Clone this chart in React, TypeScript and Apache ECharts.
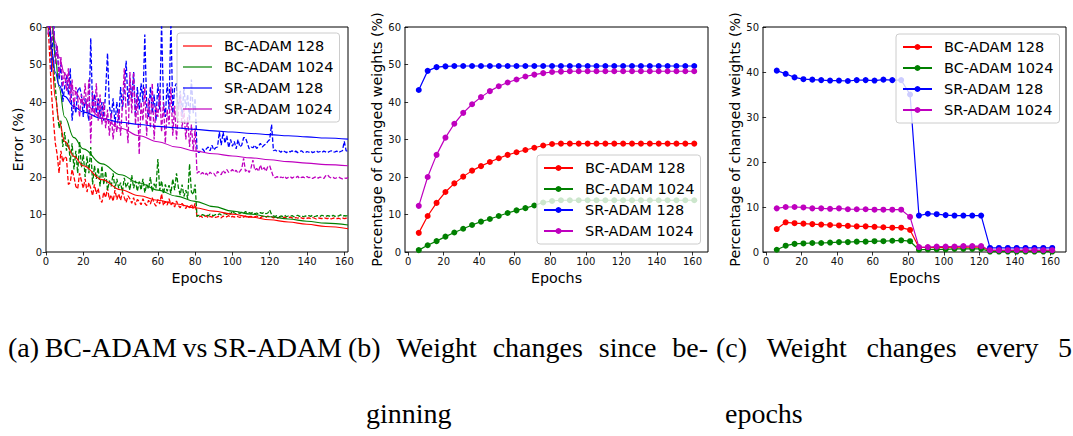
import React, { useEffect, useRef } from 'react';
import * as echarts from 'echarts';

const FONT = 'DejaVu Sans';
const SERIES_NAMES = ['BC-ADAM 128', 'BC-ADAM 1024', 'SR-ADAM 128', 'SR-ADAM 1024'];
const COLORS = ['#ff0000', '#008000', '#0000ff', '#bf00bf'];

// ---------- (a) error curves ----------
const fitEpochs = [1, 2, 3, 5, 7, 10, 15, 20, 30, 40, 50, 60, 70, 80, 90, 100, 110, 120, 130, 140, 150, 162];
const bc128Fit = [80, 62, 52, 41, 35, 29.5, 25.5, 23, 19.3, 16.6, 15.0, 13.8, 12.8, 11.8, 10.9, 10.1, 9.3, 8.6, 8.0, 7.4, 6.8, 6.2];
const bc1024Fit = [90, 72, 62, 52, 44, 36, 30.5, 27.5, 23.5, 20.6, 18.4, 16.5, 14.9, 13.5, 12.1, 10.9, 10.1, 9.4, 8.8, 8.2, 7.7, 7.2];
const sr128Fit = [70, 60, 54, 48, 44.5, 41.5, 38.8, 37.3, 35.6, 34.6, 34.0, 33.5, 33.1, 32.7, 32.3, 32.0, 31.6, 31.3, 31.0, 30.7, 30.4, 30.1];
const sr1024Fit = [85, 72, 63, 56, 52, 47.5, 43, 39.8, 35.7, 33, 31, 29.4, 28, 26.9, 26.2, 25.6, 25.1, 24.6, 24.1, 23.7, 23.3, 23.0];

const bc128Test = [
  62, 52, 42, 35, 29, 26, 21, 27, 24, 25.5,
  25, 18, 18.5, 22, 20, 17.5, 16.8, 21, 19, 17,
  19.5, 16, 18.5, 17, 15, 18, 15.5, 17, 14, 13.2,
  16, 14.5, 17, 14, 15.2, 13.5, 16.5, 14, 15.5, 13.8,
  16, 14.5, 13.2, 15, 14.2, 13, 14.5, 12.5, 14, 13.5,
  12.6, 14.2, 13, 12.4, 13.8, 12.8, 14.5, 13, 12.2, 14,
  12.8, 15.5, 12.4, 13.5, 12.5, 14.2, 12.6, 13.2, 12, 13.6,
  12.4, 11.8, 13, 12.2, 11.6, 12.5, 11.8, 12.8, 11.5, 13,
  9.5, 9.3, 9.6, 9.2, 9.4, 9.7, 9.1, 9.5, 9.3, 9.6,
  9.2, 9.4, 9.5, 9.1, 9.6, 9.3, 9.4, 9.7, 9.2, 9.5,
  9.3, 9.6, 9.4, 9.2, 9.5, 9.3, 9.6, 9.1, 9.4, 9.5,
  9.2, 9.4, 9.6, 9.3, 9.1, 9.5, 9.4, 9.2, 9.6, 9.3,
  9.4, 9.1, 9.3, 9.0, 9.2, 9.4, 9.1, 9.3, 9.0, 9.2,
  9.3, 9.1, 8.9, 9.2, 9.0, 9.3, 9.1, 8.9, 9.2, 9.0,
  9.1, 8.9, 9.2, 9.0, 8.8, 9.1, 9.0, 8.9, 9.2, 9.0,
  8.9, 9.1, 8.8, 9.0, 9.1, 8.9, 9.0, 8.8, 9.1, 8.9,
  9.0, 8.9,
];
const bc1024Test = [
  64, 58, 55, 50, 44, 38, 33, 35, 28, 32,
  27, 30, 24, 29, 22, 27, 21, 29.5, 22.5, 26,
  20, 25.5, 21, 28, 18, 23, 19.5, 22.5, 17.5, 23,
  18, 21.5, 16.5, 19, 17.5, 21, 16.8, 19.5, 17, 18.5,
  16, 19.8, 17.2, 18.5, 16.5, 20.5, 17, 19, 16.2, 18.8,
  16.5, 19.5, 15.8, 18, 16.8, 20, 16, 18.2, 17, 24.8,
  16.5, 19, 15.5, 18, 16.2, 17.8, 15.6, 19.5, 16.5, 21,
  17.2, 15.2, 18, 14.8, 16.5, 14.2, 23.5, 16, 15.3, 18,
  9.5, 9.8, 9.6, 10, 9.7, 9.9, 9.6, 10.1, 9.8, 9.7,
  10, 9.8, 10.2, 9.9, 10.1, 10.3, 10, 10.4, 10.1, 11,
  10.4, 10.2, 10.5, 10.3, 10.6, 10.2, 10.8, 10.4, 10.5, 10.3,
  10.6, 10.2, 10.4, 10.1, 10.5, 10.3, 10.6, 10.2, 10.4, 11.2,
  10, 9.6, 9.5, 9.7, 9.4, 9.6, 9.5, 9.8, 9.4, 9.6,
  9.5, 9.7, 9.4, 9.6, 9.8, 9.5, 9.7, 9.4, 9.6, 9.5,
  9.7, 9.5, 9.8, 9.4, 9.6, 9.7, 9.5, 9.8, 9.6, 9.5,
  9.7, 9.6, 9.4, 9.8, 9.5, 9.7, 9.6, 9.9, 9.5, 9.7,
  9.6, 9.8,
];
const sr128Test = [
  60, 61, 48, 62, 52, 55, 46, 50, 40, 44,
  47, 42, 49, 35, 40, 37, 43, 44, 42, 36,
  41, 38, 35, 57, 38, 42, 37, 41, 36, 40,
  35, 43, 53, 39, 36, 41, 34, 40, 35, 44,
  38, 43, 51, 39, 46, 41, 48, 36, 44, 38,
  45, 40, 58, 39, 36, 44, 37, 42, 35, 45,
  38, 61, 40, 36, 45, 38, 62, 37, 44, 45,
  38, 43, 36, 44, 38, 42, 35, 46, 37, 41,
  27, 26.5, 27, 27.5, 26.8, 27.5, 28, 27, 28.5, 27.2,
  27.8, 28, 32, 28.5, 32, 29, 31, 27.8, 30, 28.2,
  29.5, 27.5, 30, 28, 28.5, 30.5, 30.5, 29, 27.5, 28,
  27.8, 28.5, 27.6, 28.2, 29, 28, 28.5, 28.8, 29.5, 30,
  34, 27, 27.2, 26.8, 27, 26.6, 27.1, 26.8, 26.5, 26.9,
  26.7, 27, 26.6, 26.9, 26.5, 26.8, 27, 26.6, 26.4, 26.8,
  26.6, 26.9, 26.5, 26.7, 27, 26.6, 26.8, 26.5, 26.9, 26.7,
  26.5, 26.8, 27, 26.6, 26.7, 26.9, 26.5, 26.8, 27, 29.5,
  27, 26.8,
];
const sr1024Test = [
  58, 62, 56, 59, 50, 55, 47, 52, 44, 48,
  43, 49, 40, 46, 38, 44, 41, 36, 42, 39,
  45, 37, 46, 29, 43, 36, 45, 35, 42, 34,
  40, 33, 38, 31, 37, 30, 35, 32, 38, 31,
  39, 49, 36, 29, 48, 37, 48, 34, 42, 26,
  40, 35, 44, 31, 41, 33, 45, 30, 39, 36,
  43, 32, 40, 29, 38, 34, 44, 31, 39, 30,
  37, 42, 33, 38, 30, 36, 28, 34, 27, 33,
  21, 21.5, 20.8, 21.2, 20.5, 21, 20.4, 21.3, 20.8, 21,
  20.2, 21.5, 21, 20.6, 21.8, 21, 22, 21.2, 21.5, 22,
  21.3, 21.8, 21, 21.5, 22.2, 25, 21.5, 22, 21.2, 22.5,
  24.5, 21.8, 22.3, 21.5, 23.2, 21.8, 22.5, 21.5, 22.8, 23,
  21.5, 20, 19.8, 20.1, 19.7, 20, 19.8, 20.2, 19.6, 19.9,
  20.1, 19.7, 20, 19.8, 20.2, 19.6, 19.9, 20, 19.7, 20.1,
  19.8, 20, 19.6, 19.9, 20.1, 19.7, 20, 19.8, 19.6, 20.3,
  20.6, 20, 19.7, 19.9, 19.6, 19.8, 20, 19.7, 19.5, 19.8,
  19.6, 19.9,
];

// ---------- (b) and (c) ----------
const epochs5 = [6, 11, 16, 21, 26, 31, 36, 41, 46, 51, 56, 61, 66, 71, 76, 81, 86, 91, 96, 101, 106, 111, 116, 121, 126, 131, 136, 141, 146, 151, 156, 161];

const bc128Since = [5.1, 9.6, 13.1, 16.0, 18.3, 20.1, 21.7, 22.9, 24.0, 25.0, 25.9, 26.6, 27.2, 27.8, 28.4, 28.8, 28.9, 28.9, 28.9, 28.9, 28.9, 28.9, 28.9, 28.9, 28.9, 28.9, 28.9, 28.9, 28.9, 28.9, 28.9, 28.9];
const bc1024Since = [0.5, 1.8, 2.9, 4.1, 5.2, 6.2, 7.2, 8.1, 8.8, 9.6, 10.4, 11.1, 11.7, 12.4, 13.2, 13.6, 13.8, 13.8, 13.8, 13.8, 13.8, 13.8, 13.8, 13.8, 13.8, 13.8, 13.8, 13.8, 13.8, 13.8, 13.8, 13.8];
const sr128Since = [43.2, 48.3, 49.3, 49.5, 49.6, 49.6, 49.6, 49.6, 49.6, 49.6, 49.6, 49.6, 49.6, 49.6, 49.6, 49.6, 49.6, 49.6, 49.6, 49.6, 49.6, 49.6, 49.6, 49.6, 49.6, 49.6, 49.6, 49.6, 49.6, 49.6, 49.6, 49.6];
const sr1024Since = [12.3, 20.0, 25.9, 30.5, 34.2, 37.1, 39.4, 41.3, 42.9, 44.2, 45.2, 46.0, 46.8, 47.3, 47.7, 48.0, 48.1, 48.2, 48.2, 48.2, 48.2, 48.2, 48.2, 48.2, 48.2, 48.2, 48.2, 48.2, 48.2, 48.2, 48.2, 48.2];

const bc128Every = [5.1, 6.6, 6.4, 6.3, 6.2, 6.1, 6.0, 5.9, 5.8, 5.7, 5.7, 5.6, 5.5, 5.4, 5.4, 4.9, 1.0, 1.0, 1.0, 1.0, 1.1, 1.1, 1.1, 1.1, 0.3, 0.3, 0.3, 0.3, 0.3, 0.3, 0.3, 0.3];
const bc1024Every = [0.5, 1.4, 1.8, 1.9, 2.0, 2.0, 2.1, 2.2, 2.2, 2.3, 2.3, 2.4, 2.4, 2.5, 2.6, 2.4, 0.5, 0.6, 0.6, 0.6, 0.7, 0.7, 0.7, 0.7, 0.1, 0.1, 0.1, 0.1, 0.1, 0.1, 0.1, 0.1];
const sr128Every = [40.3, 39.6, 38.8, 38.4, 38.3, 38.2, 38.1, 38.1, 38.0, 38.2, 38.2, 38.1, 38.3, 38.2, 38.2, 35.0, 8.1, 8.5, 8.4, 8.2, 8.1, 8.1, 8.1, 8.1, 0.9, 0.9, 0.9, 0.9, 0.9, 0.9, 0.9, 0.9];
const sr1024Every = [9.7, 10.0, 10.0, 9.9, 9.7, 9.7, 9.6, 9.7, 9.5, 9.5, 9.5, 9.4, 9.4, 9.4, 9.4, 7.8, 1.1, 1.1, 1.2, 1.2, 1.2, 1.3, 1.3, 1.3, 0.4, 0.4, 0.4, 0.4, 0.4, 0.4, 0.4, 0.4];

const xTicks = [0, 20, 40, 60, 80, 100, 120, 140, 160];

// ---------- captions ----------
const captionA = ['(a)', 'BC-ADAM', 'vs', 'SR-ADAM'];
const captionB = ['(b)', 'Weight', 'changes', 'since', 'be-'];
const captionC = ['(c)', 'Weight', 'changes', 'every', '5'];
const captionB2 = 'ginning';
const captionC2 = 'epochs';

const CAP_FONT = 'Liberation Serif';
const CAP_SIZE = 28;

function justify(words: string[], x0: number, x1: number) {
  const ctx = document.createElement('canvas').getContext('2d') as CanvasRenderingContext2D;
  ctx.font = `${CAP_SIZE}px "${CAP_FONT}"`;
  const widths = words.map((w) => ctx.measureText(w).width);
  const total = widths.reduce((a, b) => a + b, 0);
  const gap = (x1 - x0 - total) / (words.length - 1);
  let x = x0;
  return words.map((w, i) => {
    const r = { w, x };
    x += widths[i] + gap;
    return r;
  });
}

function captionText(text: string, x: number, y: number) {
  return {
    type: 'text',
    x,
    y,
    silent: true,
    style: {
      text,
      fontFamily: CAP_FONT,
      fontSize: CAP_SIZE,
      fill: '#000',
      align: 'left',
      verticalAlign: 'middle',
    },
  };
}

function xAxisCfg(gridIndex: number, min: number, max: number) {
  return {
    type: 'value',
    gridIndex,
    min,
    max,
    name: 'Epochs',
    nameLocation: 'middle',
    nameGap: 17,
    nameTextStyle: { fontFamily: FONT, fontSize: 14.3, color: '#000' },
    axisLine: { show: false },
    splitLine: { show: false },
    axisTick: { show: true, inside: false, length: 3.5, lineStyle: { color: '#000', width: 0.8 }, customValues: xTicks },
    axisLabel: { customValues: xTicks, color: '#111', fontFamily: FONT, fontSize: 10, margin: 4 },
  };
}

function yAxisCfg(gridIndex: number, max: number, name: string, nameGap: number) {
  return {
    type: 'value',
    gridIndex,
    min: 0,
    max,
    interval: 10,
    name,
    nameLocation: 'middle',
    nameGap,
    nameTextStyle: { fontFamily: FONT, fontSize: 14.3, color: '#000' },
    axisLine: { show: false },
    splitLine: { show: false },
    axisTick: { show: true, inside: false, length: 3.5, lineStyle: { color: '#000', width: 0.8 } },
    axisLabel: { color: '#111', fontFamily: FONT, fontSize: 10, margin: 4 },
  };
}

const legendBase = {
  orient: 'vertical',
  backgroundColor: 'rgba(255,255,255,0.8)',
  borderColor: '#cccccc',
  borderWidth: 1,
  borderRadius: 3,
  padding: [4.5, 6, 4.5, 6],
  itemGap: 4,
  itemWidth: 29,
  selectedMode: false,
  formatter: (n: string) => n.split('#')[0],
  textStyle: { fontFamily: FONT, fontSize: 14.5, color: '#000', lineHeight: 17, padding: [0, 0, 0, 7] },
};

export default function App() {
  const ref = useRef<HTMLDivElement>(null);

  useEffect(() => {
    if (!ref.current) return;
    const chart = echarts.init(ref.current, undefined, { renderer: 'svg' });

    const fits = [bc128Fit, bc1024Fit, sr128Fit, sr1024Fit];
    const tests = [bc128Test, bc1024Test, sr128Test, sr1024Test];
    const since = [bc128Since, bc1024Since, sr128Since, sr1024Since];
    const every = [bc128Every, bc1024Every, sr128Every, sr1024Every];

    const series: any[] = [];
    tests.forEach((arr, k) => {
      series.push({
        type: 'line',
        name: SERIES_NAMES[k] + '#a-test',
        xAxisIndex: 0,
        yAxisIndex: 0,
        data: arr.map((v, i) => [i + 1, v]),
        showSymbol: false,
        symbol: 'none',
        color: COLORS[k],
        lineStyle: { color: COLORS[k], width: 1.3, type: [4.5, 2] },
        z: 2,
      });
    });
    fits.forEach((arr, k) => {
      series.push({
        type: 'line',
        name: SERIES_NAMES[k] + '#a',
        xAxisIndex: 0,
        yAxisIndex: 0,
        data: arr.map((v, i) => [fitEpochs[i], v]),
        showSymbol: false,
        symbol: 'none',
        smooth: 0.4,
        smoothMonotone: 'x',
        color: COLORS[k],
        lineStyle: { color: COLORS[k], width: 1.1 },
        z: 3,
      });
    });
    [since, every].forEach((group, gi) => {
      group.forEach((arr, k) => {
        series.push({
          type: 'line',
          name: SERIES_NAMES[k] + (gi === 0 ? '#b' : '#c'),
          xAxisIndex: gi + 1,
          yAxisIndex: gi + 1,
          data: arr.map((v, i) => [epochs5[i], v]),
          symbol: 'circle',
          symbolSize: 6,
          showSymbol: true,
          color: COLORS[k],
          itemStyle: { color: COLORS[k] },
          lineStyle: { color: COLORS[k], width: 1.2 },
          z: 2,
        });
      });
    });

    const gridBase = { show: true, borderColor: '#000', borderWidth: 1, backgroundColor: 'transparent', outerBoundsMode: 'none' };

    const capA = justify(captionA, 8, 342);
    const capB = justify(captionB, 348, 708);
    const capC = justify(captionC, 716, 1072);
    const L1 = 347.5;
    const L2 = 413.5;
    const graphic: any[] = [
      ...capA.map((o) => captionText(o.w, o.x, L1)),
      ...capB.map((o) => captionText(o.w, o.x, L1)),
      ...capC.map((o) => captionText(o.w, o.x, L1)),
      captionText(captionB2, 366, L2),
      captionText(captionC2, 725, L2),
    ];

    chart.setOption({
      animation: false,
      backgroundColor: '#fff',
      grid: [
        { ...gridBase, left: 46, top: 27, width: 302, height: 225 },
        { ...gridBase, left: 405, top: 27, width: 303, height: 225 },
        { ...gridBase, left: 763, top: 27, width: 303, height: 225 },
      ],
      xAxis: [xAxisCfg(0, 0, 162), xAxisCfg(1, -1.75, 168.75), xAxisCfg(2, -1.75, 168.75)],
      yAxis: [
        yAxisCfg(0, 60, 'Error (%)', 20),
        yAxisCfg(1, 60, 'Percentage of changed weights (%)', 18),
        yAxisCfg(2, 50, 'Percentage of changed weights (%)', 18),
      ],
      legend: [
        {
          ...legendBase,
          left: 177,
          top: 33,
          itemHeight: 12,
          icon: 'path://M0,0L29,0L29,1.2L0,1.2Z',
          data: SERIES_NAMES.map((n) => n + '#a'),
        },
        {
          ...legendBase,
          left: 537,
          top: 155,
          itemHeight: 7.5,
          data: SERIES_NAMES.map((n) => n + '#b'),
        },
        {
          ...legendBase,
          left: 896,
          top: 34,
          itemHeight: 7.5,
          data: SERIES_NAMES.map((n) => n + '#c'),
        },
      ],
      series,
      graphic,
    });

    return () => chart.dispose();
  }, []);

  return (
    <div
      ref={ref}
      style={{ position: 'absolute', left: 0, top: 0, width: 1073, height: 436, background: '#fff' }}
    />
  );
}
